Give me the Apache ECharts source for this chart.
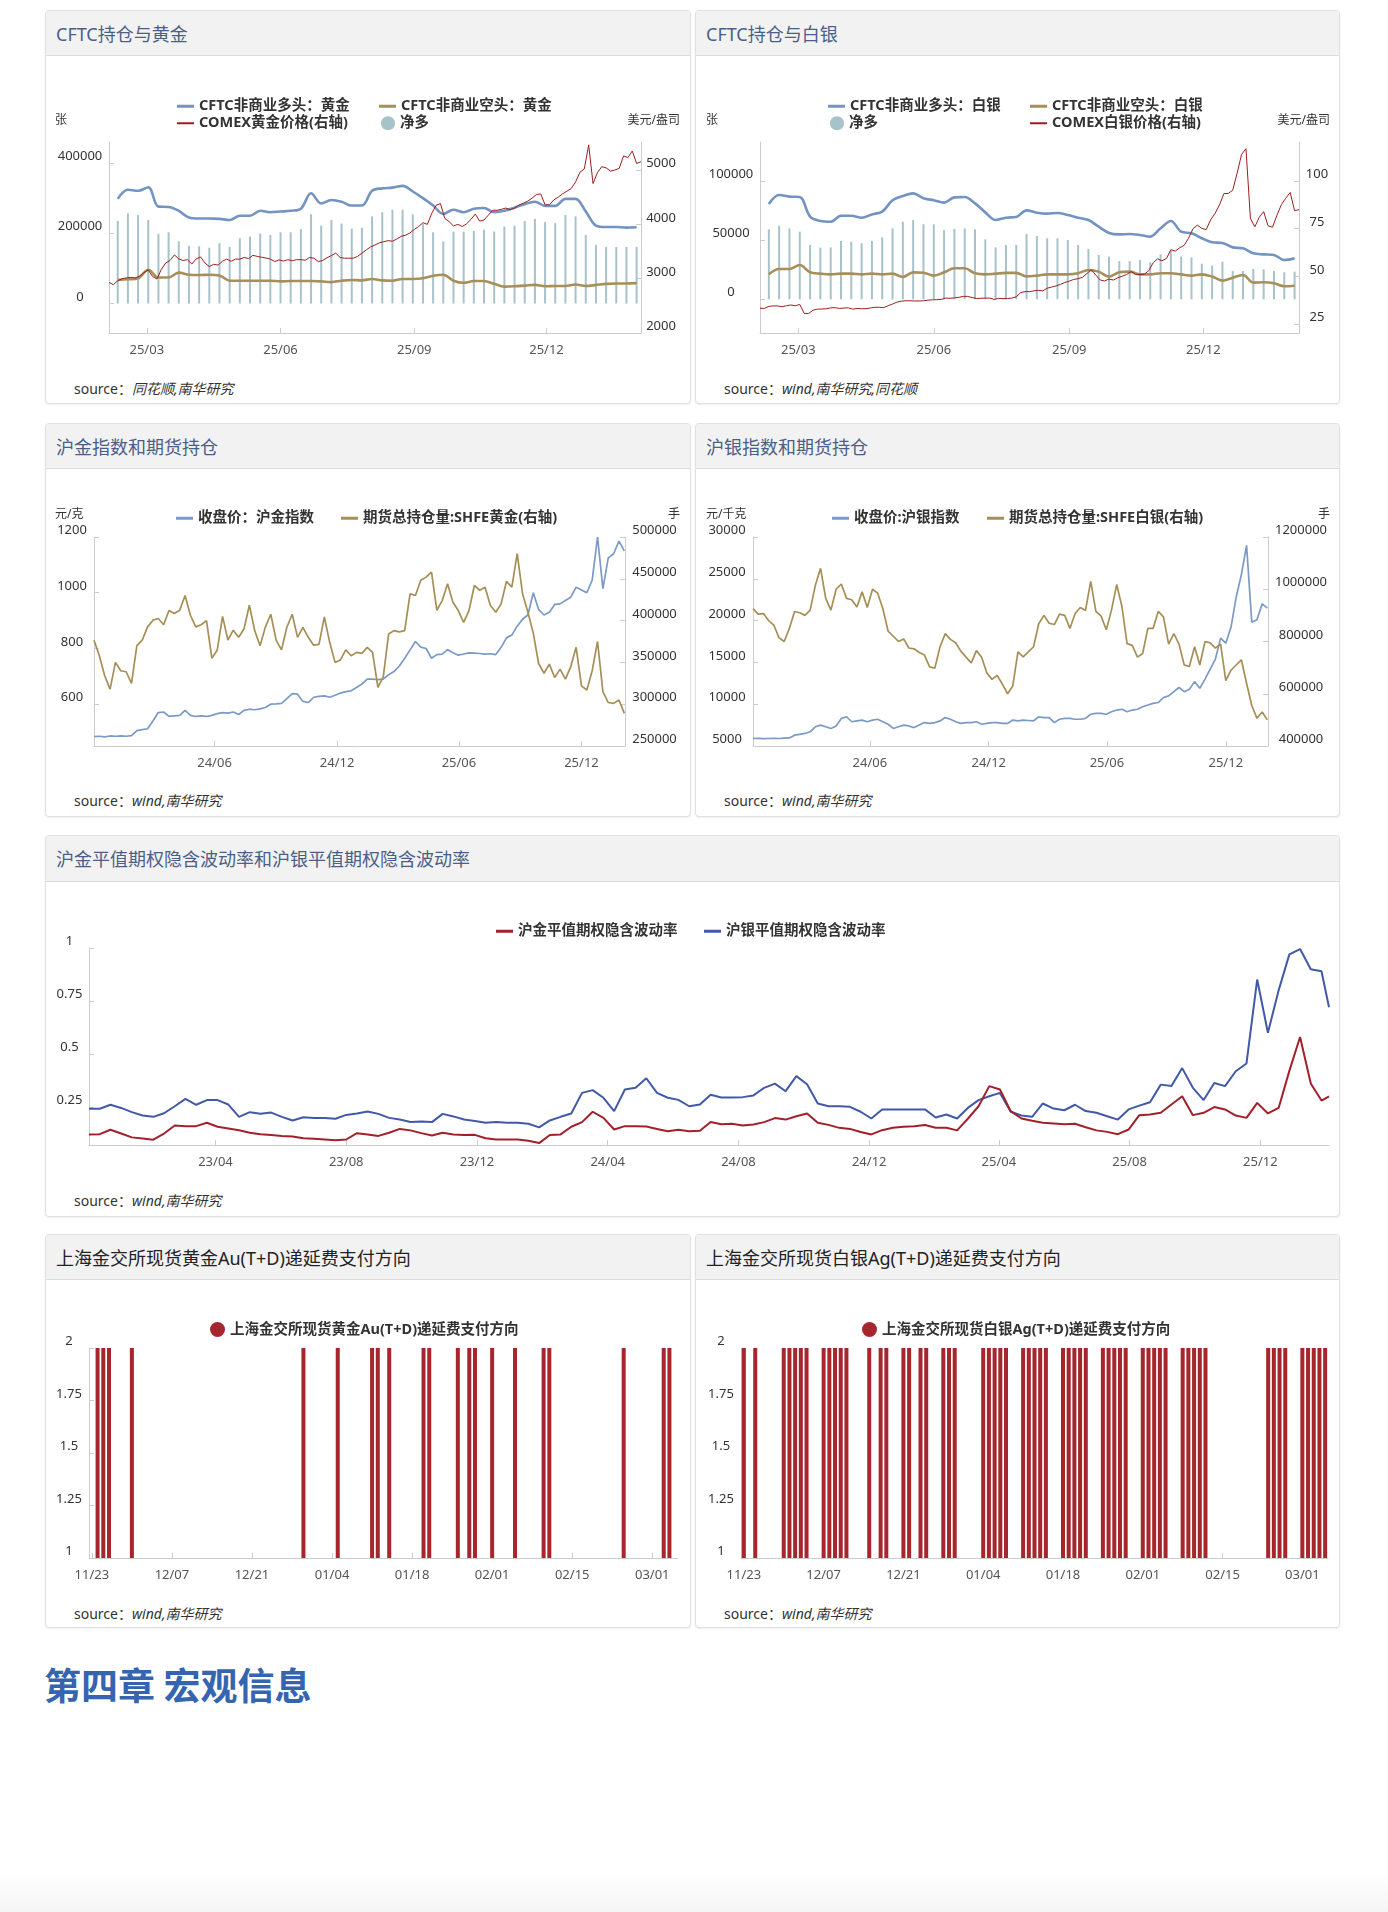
<!DOCTYPE html>
<html><head><meta charset="utf-8">
<script src="https://cdn.jsdelivr.net/npm/echarts/dist/echarts.min.js"></script>
<style>
html,body{margin:0;padding:0;background:#fff}
body{width:1388px;height:1912px;position:relative;overflow:hidden;font-family:'Noto Sans','Noto Sans CJK SC',sans-serif}
.card{position:absolute;box-sizing:border-box;border:1px solid #e0e0e0;border-radius:4px;background:#fff;box-shadow:0 1px 2px rgba(0,0,0,0.07);overflow:hidden}
.hd{position:absolute;left:0;top:0;right:0;height:45px;box-sizing:border-box;background:#f2f2f2;border-bottom:1px solid #dcdcdc;padding-left:10px;line-height:46px;font-size:18px;color:#4a5f86;white-space:nowrap}
.hd.dark{color:#222}
.chart{position:absolute;left:-1px;top:-1px;width:calc(100% + 2px);height:calc(100% + 2px)}
.src{position:absolute;left:28px;font-size:14px;color:#333;line-height:20px;white-space:nowrap}
.src i{font-style:italic}
.chap{position:absolute;left:44px;top:1662px;font-size:37px;line-height:44px;font-weight:bold;color:#3565b0;font-family:'Noto Sans CJK SC',sans-serif}
.foot{position:absolute;left:0;right:0;bottom:0;height:40px;background:linear-gradient(#fff,#f5f5f5)}
</style></head>
<body>
<div class="card" style="left:45px;top:10px;width:646px;height:394px"><div class="hd">CFTC持仓与黄金</div><div class="src" style="top:368px">source：<i>同花顺,南华研究</i></div><div class="chart" id="c1"></div></div>
<div class="card" style="left:695px;top:10px;width:645px;height:394px"><div class="hd">CFTC持仓与白银</div><div class="src" style="top:368px">source：<i>wind,南华研究,同花顺</i></div><div class="chart" id="c2"></div></div>
<div class="card" style="left:45px;top:423px;width:646px;height:394px"><div class="hd">沪金指数和期货持仓</div><div class="src" style="top:367px">source：<i>wind,南华研究</i></div><div class="chart" id="c3"></div></div>
<div class="card" style="left:695px;top:423px;width:645px;height:394px"><div class="hd">沪银指数和期货持仓</div><div class="src" style="top:367px">source：<i>wind,南华研究</i></div><div class="chart" id="c4"></div></div>
<div class="card" style="left:45px;top:835px;width:1295px;height:382px"><div class="hd" style="height:46px">沪金平值期权隐含波动率和沪银平值期权隐含波动率</div><div class="src" style="top:355px">source：<i>wind,南华研究</i></div><div class="chart" id="c5"></div></div>
<div class="card" style="left:45px;top:1234px;width:646px;height:394px"><div class="hd dark">上海金交所现货黄金Au(T+D)递延费支付方向</div><div class="src" style="top:369px">source：<i>wind,南华研究</i></div><div class="chart" id="c6"></div></div>
<div class="card" style="left:695px;top:1234px;width:645px;height:394px"><div class="hd dark">上海金交所现货白银Ag(T+D)递延费支付方向</div><div class="src" style="top:369px">source：<i>wind,南华研究</i></div><div class="chart" id="c7"></div></div>
<div class="chap">第四章 宏观信息</div>
<div class="foot"></div>
<script>
// ---------------- data ----------------
// CFTC weekly (first week 2025-02-09, step 7 days)
const cftcStart = '2025-02-09';
const goldLong = [298000,324000,321000,331000,276000,275000,264000,245000,242000,242000,241000,238000,250000,250000,264000,260000,262000,264000,270000,314000,285000,295000,290000,279000,279000,321000,328000,330000,335000,319000,300000,279000,255000,267000,260000,270000,272000,260000,264000,273000,283000,290000,278000,278000,298000,298000,262000,222000,218000,218000,216000,217000];
const goldShort = [67000,69000,72000,96000,74000,74000,88000,82000,81000,82000,80000,65000,65000,65000,65000,65000,63000,64000,64000,64000,63000,61000,65000,67000,66000,70000,66000,65000,70000,70000,72000,79000,82000,65000,59000,64000,64000,56000,48000,49000,51000,53000,49000,50000,50000,54000,50000,53000,56000,57000,57000,58000];
const goldNet = [235000,257000,252000,238000,199000,203000,177000,164000,163000,159000,172000,161000,186000,191000,199000,195000,203000,203000,212000,254000,222000,238000,228000,213000,216000,248000,260000,267000,267000,254000,226000,203000,177000,205000,205000,207000,210000,205000,219000,222000,235000,241000,232000,229000,252000,248000,195000,167000,161000,161000,161000,161000];
const silverLong = [80600,88200,86800,86500,69900,66200,65600,70700,70700,69000,71800,74100,83700,87300,89600,85400,83700,81700,86200,86500,81100,73500,67000,69000,69600,75200,73200,72400,73000,71300,69000,67000,61400,56100,54900,55200,54400,53000,60000,66200,57200,55800,51600,48200,47600,43900,43100,38900,38000,37500,33200,34600];
const silverShort = [21100,25600,25600,29000,22800,21700,21100,21700,21700,21100,21700,21100,21700,18900,22800,22500,20000,22800,26200,26200,22000,21100,21700,22300,22300,19400,20000,21100,21100,21100,22000,24800,23400,19200,22800,23400,21100,21100,22000,22000,21100,20000,21100,19200,15800,18300,20600,14100,14400,13500,11000,11500];
const silverNet = [59200,62300,60000,57200,45900,43700,43900,49300,48700,47300,49300,52400,60000,65600,67000,63400,63400,58600,59400,60000,59200,50700,43900,45900,45900,55200,53500,51600,51600,50100,45900,42500,37500,36100,32400,32400,33200,31300,38000,40800,36100,35500,30100,28500,31800,23900,23900,25600,25400,23900,22800,23400];
// COMEX prices (first 2025-02-03, step 3 days)
const comexStart = '2025-02-03';
const comexGold = [2932,2890,2963,3000,3015,3025,3012,3050,3110,3160,3040,2994,3170,3290,3335,3438,3364,3335,3350,3270,3364,3400,3290,3222,3265,3250,3320,3360,3320,3360,3360,3390,3370,3430,3410,3395,3380,3360,3315,3346,3325,3350,3330,3350,3350,3340,3390,3377,3315,3335,3385,3426,3470,3390,3377,3377,3377,3410,3470,3530,3585,3620,3660,3680,3700,3690,3730,3780,3800,3840,3905,3960,4030,4000,4200,4350,4383,4110,4050,3970,4000,3960,4010,4090,4190,4060,4080,4170,4259,4259,4278,4300,4270,4300,4355,4390,4426,4480,4549,4560,4360,4360,4450,4500,4560,4610,4660,4780,4960,5020,5463,4750,4950,5062,5040,4980,5000,5031,5260,5230,5350,5120,5154];
const comexSilver = [33.3,33.2,34.3,34.5,34.5,34.1,34.6,35.0,34.6,35.3,30.6,30.5,32.3,32.8,32.9,33.0,33.5,33.6,33.2,33.4,33.5,32.8,33.2,33.0,33.1,33.4,33.8,33.8,33.6,34.6,35.5,36.5,37.0,37.2,37.2,37.1,37.1,37.2,37.5,37.7,37.8,37.9,38.6,38.5,38.7,39.0,39.5,39.5,38.9,38.4,38.5,38.6,38.6,37.9,38.5,38.3,38.4,38.6,39.3,41.5,42.0,42.0,42.4,42.7,42.4,43.8,44.4,45.0,45.8,46.8,47.5,48.4,48.8,49.5,51.5,53.5,50.7,48.1,47.6,48.6,48.1,49.3,50.1,51.0,52.5,51.0,51.0,51.2,53.0,57.2,59.2,58.2,59.4,64.0,63.3,65.0,66.3,70.0,75.0,76.9,75.2,74.5,79.7,83.0,87.5,93.4,93.5,95.2,104.2,114,117,80.5,76,81.0,84.0,76.5,75.8,82.0,87.6,91.0,94.0,84.5,85.0];
// SHFE index & open interest (first 2023-12-04, step 8 days)
const shfeStart = '2023-12-04';
const shGoldIndex = [484,485,483,486,485,486,485,487,505,509,512,540,570,572,556,558,560,578,560,556,558,556,560,566,570,568,572,563,578,582,580,583,588,600,601,603,620,638,636,610,606,625,628,630,625,632,640,645,648,660,672,690,690,688,690,706,717,737,765,795,825,805,800,765,778,780,796,785,776,780,784,783,782,780,781,778,804,838,848,880,905,920,1000,940,920,930,958,960,972,984,1020,1010,1000,1045,1200,1015,1125,1140,1185,1150];
const shGoldOI = [376600,358000,334000,318000,350000,340000,338800,325000,370000,376600,392500,400500,402500,395000,412000,408400,412400,430000,406400,392500,395000,400000,355000,364600,405000,376600,388500,380000,390000,418400,388000,370000,392500,407600,376600,365000,392000,407600,380000,392000,380000,370600,371600,404500,374000,350000,353000,365000,358000,362000,360700,368000,362000,320000,332800,384000,388000,386500,388000,432000,430000,448300,452000,458000,412400,424000,444000,422000,412000,398000,412000,442000,436300,440000,418000,410000,420000,447000,440000,480000,432000,410000,385000,348700,337000,348000,332000,342000,330000,345000,368000,322000,317000,340000,375000,314900,302000,301000,305000,289000];
const shSilverIndex = [5900,5920,5880,5900,5910,5900,5950,5960,6300,6400,6500,6700,7300,7500,7300,7100,7400,8300,8500,7900,8000,8100,7900,8100,8200,7900,7600,7100,7300,7500,7400,7200,7500,7800,7700,7800,8000,8400,8200,7900,7700,7800,7800,7900,7600,7700,7800,7800,7700,7700,8100,8000,8100,8050,8000,8500,8400,8400,7800,8200,8300,8300,8200,8200,8300,8800,8900,8900,8800,9100,9300,9400,9100,9300,9400,9700,9900,10100,10200,10800,11000,11500,12000,11500,11800,12700,11900,13000,14200,15400,17900,17300,19200,22800,25500,29000,19800,20100,22000,21500];
const shSilverOI = [926000,905000,907000,880000,863000,815000,800000,850000,915000,910000,900000,920000,1015000,1080000,965000,920000,1000000,1020000,965000,960000,932000,990000,930000,1000000,985000,925000,840000,820000,800000,810000,775000,772000,758000,748000,703000,698000,780000,830000,808000,795000,763000,740000,718000,765000,740000,680000,655000,670000,637000,600000,630000,760000,741000,760000,780000,868000,900000,870000,865000,905000,900000,850000,907000,930000,919000,1030000,915000,897000,845000,920000,1018000,935000,792000,785000,740000,754000,850000,850000,915000,894000,790000,830000,790000,710000,705000,780000,710000,800000,795000,775000,790000,650000,690000,710000,730000,640000,555000,506000,530000,500000];
// implied vol (first 2022-12-04, step 10 days, plus final date)
const volStart = '2022-12-04';
const volLastDate = '2026-02-03';
const goldVol = [0.120,0.121,0.142,0.124,0.106,0.101,0.095,0.124,0.162,0.159,0.159,0.175,0.156,0.148,0.140,0.128,0.121,0.117,0.113,0.110,0.102,0.099,0.096,0.093,0.096,0.126,0.120,0.113,0.128,0.146,0.139,0.126,0.115,0.128,0.120,0.117,0.118,0.102,0.096,0.096,0.096,0.090,0.079,0.117,0.120,0.156,0.178,0.227,0.198,0.143,0.159,0.159,0.157,0.146,0.135,0.142,0.135,0.137,0.179,0.168,0.170,0.162,0.167,0.178,0.197,0.190,0.206,0.219,0.175,0.165,0.151,0.146,0.131,0.120,0.140,0.151,0.156,0.159,0.164,0.151,0.151,0.139,0.194,0.253,0.348,0.332,0.230,0.195,0.184,0.175,0.172,0.168,0.170,0.154,0.139,0.132,0.121,0.143,0.211,0.214,0.222,0.261,0.300,0.211,0.222,0.249,0.238,0.209,0.198,0.269,0.219,0.245,0.420,0.580,0.360,0.280,0.300];
const silverVol = [0.241,0.241,0.260,0.245,0.225,0.209,0.203,0.220,0.253,0.288,0.260,0.282,0.282,0.261,0.203,0.225,0.217,0.223,0.203,0.186,0.201,0.198,0.198,0.194,0.212,0.219,0.228,0.217,0.198,0.190,0.179,0.181,0.178,0.217,0.205,0.190,0.183,0.175,0.178,0.175,0.175,0.170,0.153,0.186,0.203,0.219,0.316,0.329,0.293,0.230,0.332,0.340,0.385,0.316,0.293,0.283,0.253,0.261,0.307,0.294,0.294,0.296,0.304,0.340,0.360,0.324,0.395,0.357,0.266,0.253,0.253,0.250,0.227,0.195,0.238,0.238,0.238,0.238,0.238,0.200,0.214,0.195,0.245,0.282,0.300,0.316,0.227,0.209,0.203,0.266,0.242,0.234,0.260,0.230,0.222,0.206,0.190,0.238,0.256,0.272,0.355,0.348,0.433,0.340,0.282,0.363,0.348,0.418,0.455,0.851,0.600,0.800,0.970,0.995,0.900,0.890,0.720];
// deferred-fee payment direction (value 2 on the shown days)
const auDeferDays = ['2025-11-24','2025-11-25','2025-11-26','2025-11-30','2025-12-30','2026-01-05','2026-01-11','2026-01-12','2026-01-14','2026-01-20','2026-01-21','2026-01-26','2026-01-28','2026-01-29','2026-02-01','2026-02-05','2026-02-10','2026-02-11','2026-02-24','2026-03-03','2026-03-04'];
const agDeferDays = ['2025-11-23','2025-11-25','2025-11-30','2025-12-01','2025-12-02','2025-12-03','2025-12-04','2025-12-07','2025-12-08','2025-12-09','2025-12-10','2025-12-11','2025-12-15','2025-12-17','2025-12-18','2025-12-21','2025-12-22','2025-12-24','2025-12-25','2025-12-28','2025-12-29','2025-12-30','2026-01-04','2026-01-05','2026-01-06','2026-01-07','2026-01-08','2026-01-11','2026-01-12','2026-01-13','2026-01-14','2026-01-15','2026-01-18','2026-01-19','2026-01-20','2026-01-21','2026-01-22','2026-01-25','2026-01-26','2026-01-27','2026-01-28','2026-01-29','2026-02-01','2026-02-02','2026-02-03','2026-02-04','2026-02-05','2026-02-08','2026-02-09','2026-02-10','2026-02-11','2026-02-12','2026-02-23','2026-02-24','2026-02-25','2026-02-26','2026-03-01','2026-03-02','2026-03-03','2026-03-04','2026-03-05'];
const deferValue = 2;
// axis label dates
const p12Labels = ['2025-03-01','2025-06-01','2025-09-01','2025-12-01'];
const p34Labels = ['2024-06-01','2024-12-01','2025-06-01','2025-12-01'];
const p5Labels = ['2023-04-01','2023-08-01','2023-12-01','2024-04-01','2024-08-01','2024-12-01','2025-04-01','2025-08-01','2025-12-01'];
const p67Labels = ['2025-11-23','2025-12-07','2025-12-21','2026-01-04','2026-01-18','2026-02-01','2026-02-15','2026-03-01'];

// ---------------- helpers ----------------
const DAY = 86400000;
const FONT = "'Noto Sans','Noto Sans CJK SC',sans-serif";
const AXC = '#cccccc';
function iso(t){return new Date(t).toISOString().slice(0,10);}
function dateList(start, n, step){const t0=Date.parse(start+'T00:00:00Z');const o=[];for(let i=0;i<n;i++)o.push(iso(t0+i*step*DAY));return o;}
function dateRange(a,b){const t0=Date.parse(a+'T00:00:00Z'),t1=Date.parse(b+'T00:00:00Z');const o=[];for(let t=t0;t<=t1;t+=DAY)o.push(iso(t));return o;}
function pts(cats, dates, vals){const m={};cats.forEach((d,i)=>m[d]=i);return dates.map((d,i)=>[m[d],vals[i]]);}
const ym = v => v.slice(2,4)+'/'+v.slice(5,7);
const md = v => v.slice(5,7)+'/'+v.slice(8,10);
function xAx(cats, labels, fmt, gap){
  const s=new Set(labels);const f=(i,v)=>s.has(v);
  return {type:'category',data:cats,boundaryGap:gap,
    axisLine:{show:true,onZero:false,lineStyle:{color:AXC,width:1}},
    axisTick:{show:true,inside:true,length:5,alignWithLabel:true,interval:f,lineStyle:{color:AXC}},
    axisLabel:{show:true,interval:f,formatter:fmt,color:'#555',fontSize:13,margin:11,fontFamily:FONT},
    splitLine:{show:false}};
}
function yAx(o){
  const ax={type:'value',min:o.min,max:o.max,position:o.pos||'left',splitLine:{show:false},
    axisLine:{show:true,onZero:false,lineStyle:{color:AXC,width:1}},
    axisTick:{show:true,inside:true,length:5,lineStyle:{color:AXC}},
    axisLabel:{color:'#333',fontSize:13,fontFamily:FONT,align:'center',verticalAlign:'bottom',margin:o.margin,
      formatter:v=>String(Math.round(v*1e6)/1e6)}};
  if(o.interval) ax.interval=o.interval;
  if(o.values){ax.axisLabel.customValues=o.values;ax.axisTick.customValues=o.values;}
  return ax;
}
function lg(name,left,top,icon,w,h){
  return {data:[name],left,top,icon,itemWidth:w,itemHeight:h,padding:0,itemGap:0,selectedMode:false,
    textStyle:{fontSize:14.5,fontWeight:'bold',color:'#333',fontFamily:FONT}};
}
function unit(text,pos,top){
  return Object.assign({type:'text',top,style:{text,fontSize:12,fill:'#333',fontFamily:FONT}},pos);
}
function grid(l,r,t,b){return {left:l,right:r,top:t,bottom:b,containLabel:false,outerBoundsMode:'none'};}
function line(name,data,color,width,yi,smooth){
  return {name,type:'line',data,yAxisIndex:yi||0,showSymbol:false,symbol:'none',smooth:smooth||false,
    lineStyle:{color,width},itemStyle:{color},emphasis:{disabled:true},z:3};
}
function draw(id,opt){const c=echarts.init(document.getElementById(id));opt.animation=false;c.setOption(opt);}

// ---------------- chart 1 & 2: CFTC ----------------
const cftcCats = dateRange('2025-02-03','2026-02-04');
const cftcDates = dateList(cftcStart, goldLong.length, 7);
const comexDates = dateList(comexStart, comexGold.length, 3);
const NETC = '#a8c2ca', LONGC = '#7393c3', SHORTC = '#a68f58', PRICEC = '#9d1d1d';

draw('c1',{
  grid:grid(64,50,132,71),
  xAxis:xAx(cftcCats,p12Labels,ym,false),
  yAxis:[yAx({min:-84000,max:460000,values:[0,200000,400000],margin:29}),
         yAx({min:2000,max:5516,values:[2000,3000,4000,5000],margin:20,pos:'right'})],
  legend:[lg('CFTC非商业多头：黄金',132,89,'rect',17,3),lg('CFTC非商业空头：黄金',334,89,'rect',17,3),
          lg('COMEX黄金价格(右轴)',132,106,'rect',17,2),lg('净多',336,106,'circle',14,14)],
  graphic:[unit('张',{left:10},105),unit('美元/盎司',{right:11},105)],
  series:[
    {name:'净多',type:'bar',barWidth:2,data:pts(cftcCats,cftcDates,goldNet),itemStyle:{color:NETC},z:1},
    line('CFTC非商业多头：黄金',pts(cftcCats,cftcDates,goldLong),LONGC,2.6,0,0.35),
    line('CFTC非商业空头：黄金',pts(cftcCats,cftcDates,goldShort),SHORTC,2.6,0,0.35),
    line('COMEX黄金价格(右轴)',pts(cftcCats,comexDates,comexGold),PRICEC,1,1)
  ]
});

draw('c2',{
  grid:grid(65,41,132,71),
  xAxis:xAx(cftcCats,p12Labels,ym,false),
  yAxis:[yAx({min:-28500,max:133000,values:[0,50000,100000],margin:29}),
         yAx({min:20.3,max:120.5,values:[25,50,75,100],margin:18,pos:'right'})],
  legend:[lg('CFTC非商业多头：白银',133,89,'rect',17,3),lg('CFTC非商业空头：白银',335,89,'rect',17,3),
          lg('净多',135,106,'circle',14,14),lg('COMEX白银价格(右轴)',335,106,'rect',17,2)],
  graphic:[unit('张',{left:11},105),unit('美元/盎司',{right:10},105)],
  series:[
    {name:'净多',type:'bar',barWidth:2,data:pts(cftcCats,cftcDates,silverNet),itemStyle:{color:NETC},z:1},
    line('CFTC非商业多头：白银',pts(cftcCats,cftcDates,silverLong),LONGC,2.6,0,0.35),
    line('CFTC非商业空头：白银',pts(cftcCats,cftcDates,silverShort),SHORTC,2.6,0,0.35),
    line('COMEX白银价格(右轴)',pts(cftcCats,comexDates,comexSilver),PRICEC,1,1)
  ]
});

// ---------------- chart 3 & 4: SHFE ----------------
const shfeCats = dateRange('2023-12-04','2026-02-04');
const shfeDates = dateList(shfeStart, shGoldIndex.length, 8);
const IDXC = '#7b9ac6', OIC = '#a68f57';
draw('c3',{
  grid:grid(49,66,114,71),
  xAxis:xAx(shfeCats,p34Labels,ym,false),
  yAxis:[yAx({min:450,max:1200,values:[600,800,1000,1200],margin:22}),
         yAx({min:250000,max:500000,interval:50000,margin:29.5,pos:'right'})],
  legend:[lg('收盘价：沪金指数',131,88,'rect',17,3),lg('期货总持仓量:SHFE黄金(右轴)',296,88,'rect',17,3)],
  graphic:[unit('元/克',{left:10},86),unit('手',{right:11},86)],
  series:[
    line('收盘价：沪金指数',pts(shfeCats,shfeDates,shGoldIndex),IDXC,1.7,0),
    line('期货总持仓量:SHFE黄金(右轴)',pts(shfeCats,shfeDates,shGoldOI),OIC,1.7,1)
  ]
});
draw('c4',{
  grid:grid(58,72,114,71),
  xAxis:xAx(shfeCats,p34Labels,ym,false),
  yAxis:[yAx({min:5000,max:30000,interval:5000,margin:26}),
         yAx({min:400000,max:1200000,interval:200000,margin:33,pos:'right'})],
  legend:[lg('收盘价:沪银指数',137,88,'rect',17,3),lg('期货总持仓量:SHFE白银(右轴)',292,88,'rect',17,3)],
  graphic:[unit('元/千克',{left:11},86),unit('手',{right:10},86)],
  series:[
    line('收盘价:沪银指数',pts(shfeCats,shfeDates,shSilverIndex),IDXC,1.7,0),
    line('期货总持仓量:SHFE白银(右轴)',pts(shfeCats,shfeDates,shSilverOI),OIC,1.7,1)
  ]
});

// ---------------- chart 5: implied vol ----------------
const volCats = dateRange('2022-12-04','2026-02-03');
const volDates = dateList(volStart, goldVol.length-1, 10).concat([volLastDate]);
draw('c5',{
  grid:grid(44,11,113,72),
  xAxis:xAx(volCats,p5Labels,ym,false),
  yAxis:yAx({min:0.07,max:1,values:[0.25,0.5,0.75,1],margin:19.5}),
  legend:[lg('沪金平值期权隐含波动率',451,89,'rect',17,3),lg('沪银平值期权隐含波动率',659,89,'rect',17,3)],
  series:[
    line('沪银平值期权隐含波动率',pts(volCats,volDates,silverVol),'#4259a9',2,0),
    line('沪金平值期权隐含波动率',pts(volCats,volDates,goldVol),'#a3202a',2,0)
  ]
});

// ---------------- chart 6 & 7: deferred fee ----------------
const deferCats = dateRange('2025-11-23','2026-03-05');
const BARC = '#a6262d';
function deferChart(id,name,days,left,legLeft){
  draw(id,{
    grid:grid(left,id==='c6'?13:12,114,70),
    xAxis:xAx(deferCats,p67Labels,md,true),
    yAxis:yAx({min:1,max:2,interval:0.25,margin:20}),
    legend:[lg(name,legLeft,88,'circle',15,15)],
    series:[{name,type:'bar',barWidth:4,clip:true,itemStyle:{color:BARC},
      data:pts(deferCats,days,days.map(()=>deferValue))}]
  });
}
deferChart('c6','上海金交所现货黄金Au(T+D)递延费支付方向',auDeferDays,44,165);
deferChart('c7','上海金交所现货白银Ag(T+D)递延费支付方向',agDeferDays,46,167);
</script>
</body></html>
